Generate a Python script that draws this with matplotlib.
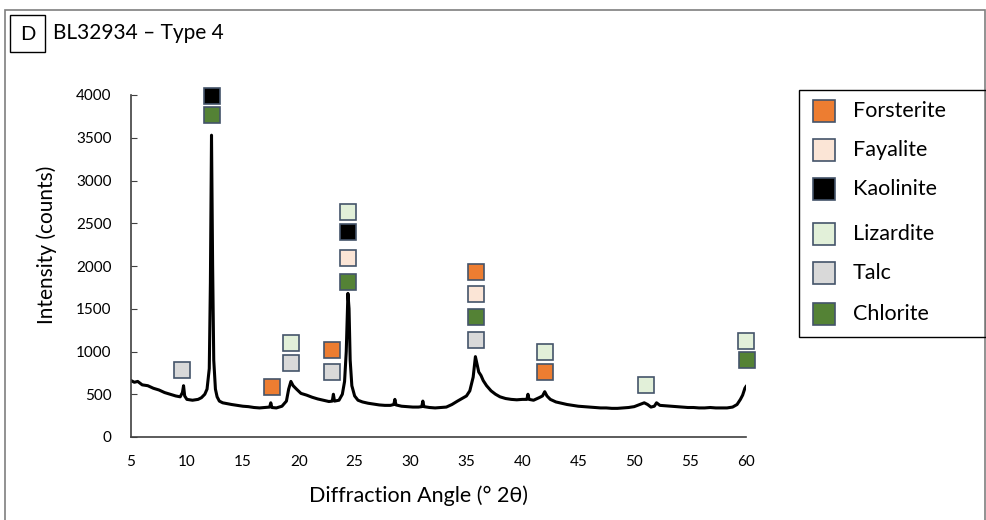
import matplotlib
matplotlib.use("Agg")
import matplotlib.pyplot as plt
from matplotlib.patches import Rectangle

plt.rcParams['font.family'] = ['Lato', 'DejaVu Sans']

# ---- data: diffraction pattern ----
angle = [5.0, 5.3, 5.6, 6.0, 6.5, 7.0, 7.5, 8.0, 8.5, 9.0, 9.4, 9.6, 9.7, 9.8, 10.0, 10.5, 11.0,
         11.3, 11.6, 11.8, 12.0, 12.1, 12.2, 12.3, 12.4, 12.55, 12.7, 12.9, 13.2, 13.6, 14.0, 14.5,
         15.0, 15.5, 16.0, 16.5, 17.0, 17.4, 17.5, 17.6, 18.0, 18.5, 18.9, 19.1, 19.3, 19.5, 19.8,
         20.2, 20.7, 21.2, 21.7, 22.2, 22.7, 23.0, 23.1, 23.2, 23.6, 23.9, 24.1, 24.25, 24.4, 24.5,
         24.6, 24.75, 25.0, 25.3, 25.7, 26.2, 26.7, 27.2, 27.7, 28.2, 28.5, 28.6, 28.7, 29.2, 29.7,
         30.2, 30.7, 31.0, 31.1, 31.2, 31.7, 32.2, 32.7, 33.2, 33.7, 34.2, 34.6, 35.0, 35.3, 35.6,
         35.8, 35.95, 36.1, 36.3, 36.5, 36.8, 37.2, 37.6, 38.0, 38.5, 39.0, 39.5, 40.0, 40.4, 40.5,
         40.6, 41.0, 41.5, 41.8, 42.0, 42.2, 42.5, 43.0, 43.5, 44.0, 44.5, 45.0, 45.5, 46.0, 46.5,
         47.0, 47.5, 48.0, 48.5, 49.0, 49.5, 50.0, 50.5, 50.9, 51.2, 51.5, 51.8, 52.0, 52.3, 52.8,
         53.3, 53.8, 54.3, 54.8, 55.3, 55.8, 56.3, 56.8, 57.3, 57.8, 58.3, 58.8, 59.2, 59.5, 59.7,
         59.9, 60.0]
counts = [660, 640, 650, 610, 600, 570, 550, 520, 500, 480, 470, 520, 600, 480, 440, 430, 440,
          460, 500, 560, 800, 1800, 3530, 2000, 900, 560, 470, 420, 400, 390, 380, 370,
          360, 355, 345, 340, 345, 350, 400, 345, 340, 360, 420, 560, 650, 600, 560,
          510, 490, 465, 445, 430, 415, 420, 500, 420, 430, 500, 650, 1000, 1680, 1500,
          900, 600, 480, 430, 410, 395, 385, 375, 370, 370, 380, 440, 375, 360, 355,
          350, 350, 355, 420, 355, 345, 340, 345, 350, 380, 420, 450, 480, 540, 700,
          940, 850, 760, 720, 660, 600, 540, 500, 470, 450, 440, 435, 440, 440, 500,
          440, 430, 460, 480, 530, 480, 440, 410, 395, 380, 370, 360, 355, 350, 345,
          340, 340, 335, 335, 340, 345, 355, 380, 400, 380, 350, 360, 400, 370, 365,
          360, 355, 350, 345, 345, 340, 340, 345, 340, 340, 340, 350, 380, 440, 490,
          570, 590]

# ---- phase marker positions (angle, intensity) ----
minerals = ["Forsterite", "Fayalite", "Kaolinite", "Lizardite", "Talc", "Chlorite"]
colors = ["#ED7D31", "#FBE5D6", "#000000", "#E2F0D9", "#D9D9D9", "#548235"]
forsterite_x = [17.6, 23.0, 35.85, 42.05]
forsterite_y = [585, 1018, 1930, 760]
fayalite_x = [24.4, 35.85]
fayalite_y = [2094, 1673]
kaolinite_x = [12.25, 24.4]
kaolinite_y = [3990, 2398]
lizardite_x = [19.3, 24.4, 42.05, 51.05, 60.0]
lizardite_y = [1100, 2632, 994, 608, 1123]
talc_x = [9.55, 19.3, 23.0, 35.85]
talc_y = [784, 865, 760, 1135]
chlorite_x = [12.25, 24.4, 35.85, 60.05]
chlorite_y = [3766, 1813, 1403, 900]
marker_x = [forsterite_x, fayalite_x, kaolinite_x, lizardite_x, talc_x, chlorite_x]
marker_y = [forsterite_y, fayalite_y, kaolinite_y, lizardite_y, talc_y, chlorite_y]

x_ticks = [5, 10, 15, 20, 25, 30, 35, 40, 45, 50, 55, 60]
y_ticks = [0, 500, 1000, 1500, 2000, 2500, 3000, 3500, 4000]

W, H = 987, 520
fig = plt.figure(figsize=(W / 100, H / 100), dpi=100)

# outer frame
fig.patches.append(Rectangle((5 / W, -0.05), 980 / W, 1.05 - 10 / H, transform=fig.transFigure,
                             fill=False, edgecolor="#7f7f7f", linewidth=1.2))

ax = fig.add_axes([131 / W, (H - 437) / H, 615 / W, 342 / H])
ax.plot(angle, counts, color="black", linewidth=2.2, solid_joinstyle="round")

edge = "#44546A"
for xs, ys, c in zip(marker_x, marker_y, colors):
    ax.plot(xs, ys, linestyle="none", marker="s", markersize=11.5, markerfacecolor=c,
            markeredgecolor=edge, markeredgewidth=1.2, clip_on=False, zorder=5)

ax.set_xlim(5, 60)
ax.set_ylim(0, 4000)
ax.set_xticks(x_ticks)
ax.set_yticks(y_ticks)
ax.tick_params(axis="x", length=0, pad=13, labelsize=11)
ax.tick_params(axis="y", direction="in", length=4, pad=14, labelsize=11, color="#404040")
for s in ["top", "right"]:
    ax.spines[s].set_visible(False)
for s in ["left", "bottom"]:
    ax.spines[s].set_color("#404040")
    ax.spines[s].set_linewidth(1.2)

fig.text(419 / W, 1 - 496 / H, "Diffraction Angle (° 2θ)", ha="center", va="center", fontsize=15.5)
fig.text(47 / W, 1 - 245 / H, "Intensity (counts)", ha="center", va="center", rotation=90, fontsize=15)

# title with boxed letter
fig.patches.append(Rectangle((10 / W, 1 - 52 / H), 35 / W, 37 / H, transform=fig.transFigure,
                             fill=False, edgecolor="black", linewidth=1.0))
fig.text(27.5 / W, 1 - 34 / H, "D", ha="center", va="center", fontsize=14.5)
fig.text(53 / W, 1 - 33 / H, "BL32934 – Type 4", ha="left", va="center", fontsize=15)

# legend box
fig.patches.append(Rectangle((799 / W, 1 - 337 / H), 187 / W, 247 / H, transform=fig.transFigure,
                             fill=False, edgecolor="black", linewidth=1.0))
leg_y = [111, 150, 189, 234, 273, 314]
for name, c, yy in zip(minerals, colors, leg_y):
    fig.patches.append(Rectangle((813 / W, 1 - (yy + 11) / H), 22 / W, 22 / H,
                                 transform=fig.transFigure, facecolor=c,
                                 edgecolor=edge, linewidth=1.2))
    fig.text(853 / W, 1 - yy / H, name, ha="left", va="center", fontsize=15.5)

fig.savefig("out.png", dpi=100)
